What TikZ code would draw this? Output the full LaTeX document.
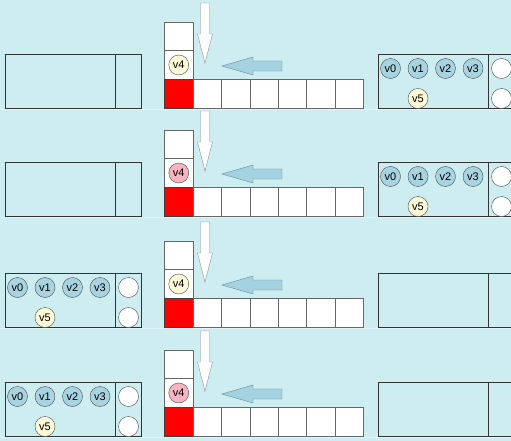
\documentclass[tikz,border=0pt]{standalone}
\usepackage{fontspec}
\setmainfont{Liberation Sans}
\usepackage{xcolor}
\usetikzlibrary{arrows.meta,positioning,calc}
\definecolor{bgcyan}{RGB}{206,237,240}
\definecolor{vblue}{RGB}{168,211,224}
\definecolor{vyel}{RGB}{253,249,214}
\definecolor{vpink}{RGB}{245,180,192}
\definecolor{arrblue}{RGB}{165,210,224}
\definecolor{arredge}{RGB}{100,140,155}

\begin{document}
\begin{tikzpicture}[x=1pt,y=-1pt,
	vert/.style={circle,draw=black!70,minimum size=20pt,inner sep=0pt,font=\fontsize{11}{13}\selectfont},
	slot/.style={circle,draw=black!70,fill=white,minimum size=20pt,inner sep=0pt},
	cell/.style={draw=black!60,fill=white},
	framebox/.style={draw=black!80}]
	\clip (0,0) rectangle (511,441);
	\fill[bgcyan] (0,0) rectangle (511,441);
	
	% four stages, one below the other
	\foreach \s/\dy/\vcol/\fx in {1/0/vyel/378, 2/108/vpink/378, 3/219/vyel/5, 4/328/vpink/5}{
	\begin{scope}[shift={(0,\dy)}]
		% column and row of cells
		\draw[cell] (164.5,22) rectangle (193,50.5);
		\draw[cell] (164.5,50.5) rectangle (193,79.5);
		\filldraw[draw=black!75,fill=red] (164.5,79.5) rectangle (193,108);
		\foreach \k in {0,...,5}
			\draw[cell] ({193+28.4*\k},79.5) rectangle ({193+28.4*(\k+1)},108);
		\node[vert,fill=\vcol] (v4-\s) at (178.75,65) {v4};
		
		% arrows
		\filldraw[draw=black!45,fill=white] (200.5,3)--(209.5,3)--(209.5,34)--(212.5,34)--(205,63)--(197.5,34)--(200.5,34)--cycle;
		\filldraw[draw=arredge,fill=arrblue] (222,66)--(253,57)--(253,61)--(282,61)--(282,71)--(253,71)--(253,75)--cycle;
		
		% left and right boxes
		\draw[framebox] (5,54) rectangle (141,108) (115,54)--(115,108);
		\draw[framebox] (378,54) rectangle (514,108) (488,54)--(488,108);
		
		% the box that holds the vertices
		\foreach \k in {0,...,3}
			\node[vert,fill=vblue] (v\k-\s) at ({\fx+12.5+27.5*\k},68.5) {v\k};
		\node[vert,fill=vyel] (v5-\s) at (\fx+40,98.5) {v5};
		\node[slot] (a-\s) at (\fx+123.5,68.5) {};
		\node[slot] (b-\s) at (\fx+123.5,98.5) {};
		
		% light seam under the stage
		\draw[white!45!bgcyan,line width=1.5pt] (0,109.5)--(511,109.5);
	\end{scope}}
\end{tikzpicture}
\end{document}
